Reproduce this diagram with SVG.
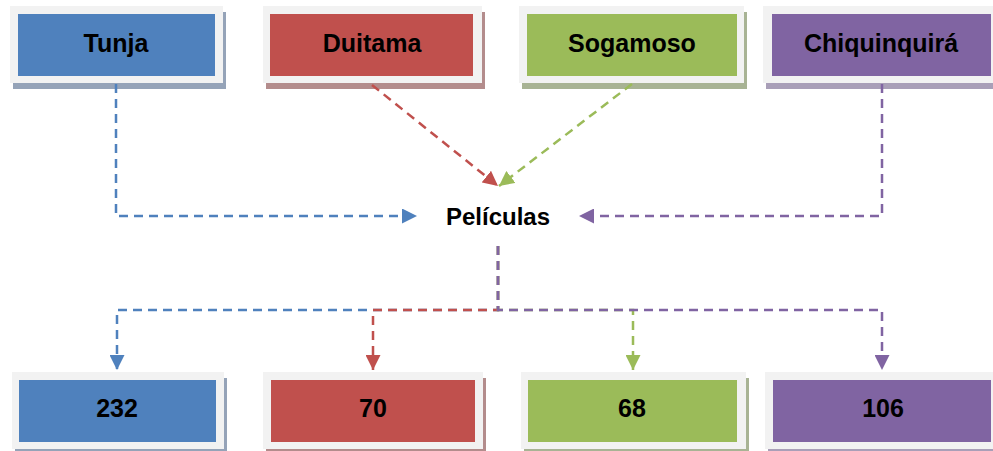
<svg xmlns="http://www.w3.org/2000/svg" width="993" height="451" viewBox="0 0 993 451">
<style>
.frame{fill:#f2f2f2}
.lbl{font-family:"Liberation Sans",Arial,sans-serif;font-weight:bold;font-size:25px;fill:#000;text-anchor:middle}
.c{fill:none;stroke-width:2.5;stroke-dasharray:9 6}
.b{stroke:#4f81bd}.r{stroke:#c0504d}.g{stroke:#9bbb59}.p{stroke:#8064a2}
</style>
<defs>
<marker id="ab" markerUnits="userSpaceOnUse" markerWidth="15" markerHeight="15" refX="15" refY="7.5" orient="auto"><path d="M0,0 L15,7.5 L0,15 z" fill="#4f81bd"/></marker>
<marker id="ar" markerUnits="userSpaceOnUse" markerWidth="15" markerHeight="15" refX="15" refY="7.5" orient="auto"><path d="M0,0 L15,7.5 L0,15 z" fill="#c0504d"/></marker>
<marker id="ag" markerUnits="userSpaceOnUse" markerWidth="15" markerHeight="15" refX="15" refY="7.5" orient="auto"><path d="M0,0 L15,7.5 L0,15 z" fill="#9bbb59"/></marker>
<marker id="ap" markerUnits="userSpaceOnUse" markerWidth="15" markerHeight="15" refX="15" refY="7.5" orient="auto"><path d="M0,0 L15,7.5 L0,15 z" fill="#8064a2"/></marker>
</defs>
<rect width="993" height="451" fill="#fff"/>
<g id="tunja">
<rect x="13" y="12" width="213" height="77" fill="#95a3b8"/>
<rect class="frame" x="10" y="6" width="213" height="77"/>
<rect x="18" y="14" width="197" height="62" fill="#4f81bd"/>
<text class="lbl" x="116" y="52">Tunja</text>
</g>
<g id="duitama">
<rect x="266" y="12" width="219" height="77" fill="#b38c8c"/>
<rect class="frame" x="263" y="6" width="219" height="77"/>
<rect x="270" y="14" width="203" height="62" fill="#c0504d"/>
<text class="lbl" x="372" y="52">Duitama</text>
</g>
<g id="sogamoso">
<rect x="522" y="12" width="225" height="77" fill="#a8b394"/>
<rect class="frame" x="519" y="6" width="225" height="77"/>
<rect x="527" y="14" width="210" height="62" fill="#9bbb59"/>
<text class="lbl" x="632" y="52">Sogamoso</text>
</g>
<g id="chiquinquira">
<rect x="766" y="12" width="230" height="77" fill="#a99fb8"/>
<rect class="frame" x="763" y="6" width="232" height="77"/>
<rect x="772" y="14" width="219" height="62" fill="#8064a2"/>
<text class="lbl" x="881" y="52">Chiquinquirá</text>
</g>
<g id="peliculas">
<text class="lbl" x="498" y="225" style="font-size:24px">Películas</text>
</g>
<g id="n232">
<rect x="15" y="378" width="212" height="77" fill="#95a3b8"/>
<rect class="frame" x="12" y="372" width="212" height="77"/>
<rect x="19" y="380" width="197" height="62" fill="#4f81bd"/>
<text class="lbl" x="117" y="417">232</text>
</g>
<g id="n70">
<rect x="266" y="378" width="220" height="77" fill="#b38c8c"/>
<rect class="frame" x="263" y="372" width="220" height="77"/>
<rect x="271" y="380" width="204" height="62" fill="#c0504d"/>
<text class="lbl" x="373" y="417">70</text>
</g>
<g id="n68">
<rect x="524" y="378" width="225" height="77" fill="#a8b394"/>
<rect class="frame" x="521" y="372" width="225" height="77"/>
<rect x="528" y="380" width="209" height="62" fill="#9bbb59"/>
<text class="lbl" x="632" y="417">68</text>
</g>
<g id="n106">
<rect x="768" y="378" width="230" height="77" fill="#a99fb8"/>
<rect class="frame" x="765" y="372" width="230" height="77"/>
<rect x="773" y="380" width="218" height="62" fill="#8064a2"/>
<text class="lbl" x="883" y="417">106</text>
</g>
<g id="connectors">
<path class="c b" d="M116,84 V216 H417" marker-end="url(#ab)"/>
<path class="c r" d="M372,85 L498,186" marker-end="url(#ar)"/>
<path class="c g" d="M632,84 L499,186" marker-end="url(#ag)"/>
<path class="c p" d="M882,84 V216 H579" marker-end="url(#ap)"/>
<path class="c b" d="M498,246 V310 H117 V370" marker-end="url(#ab)"/>
<path class="c r" d="M498,246 V310 H373 V370" marker-end="url(#ar)"/>
<path class="c g" d="M498,246 V310 H633 V370" marker-end="url(#ag)"/>
<path class="c p" d="M498,246 V310 H882 V370" marker-end="url(#ap)"/>
</g>
</svg>
